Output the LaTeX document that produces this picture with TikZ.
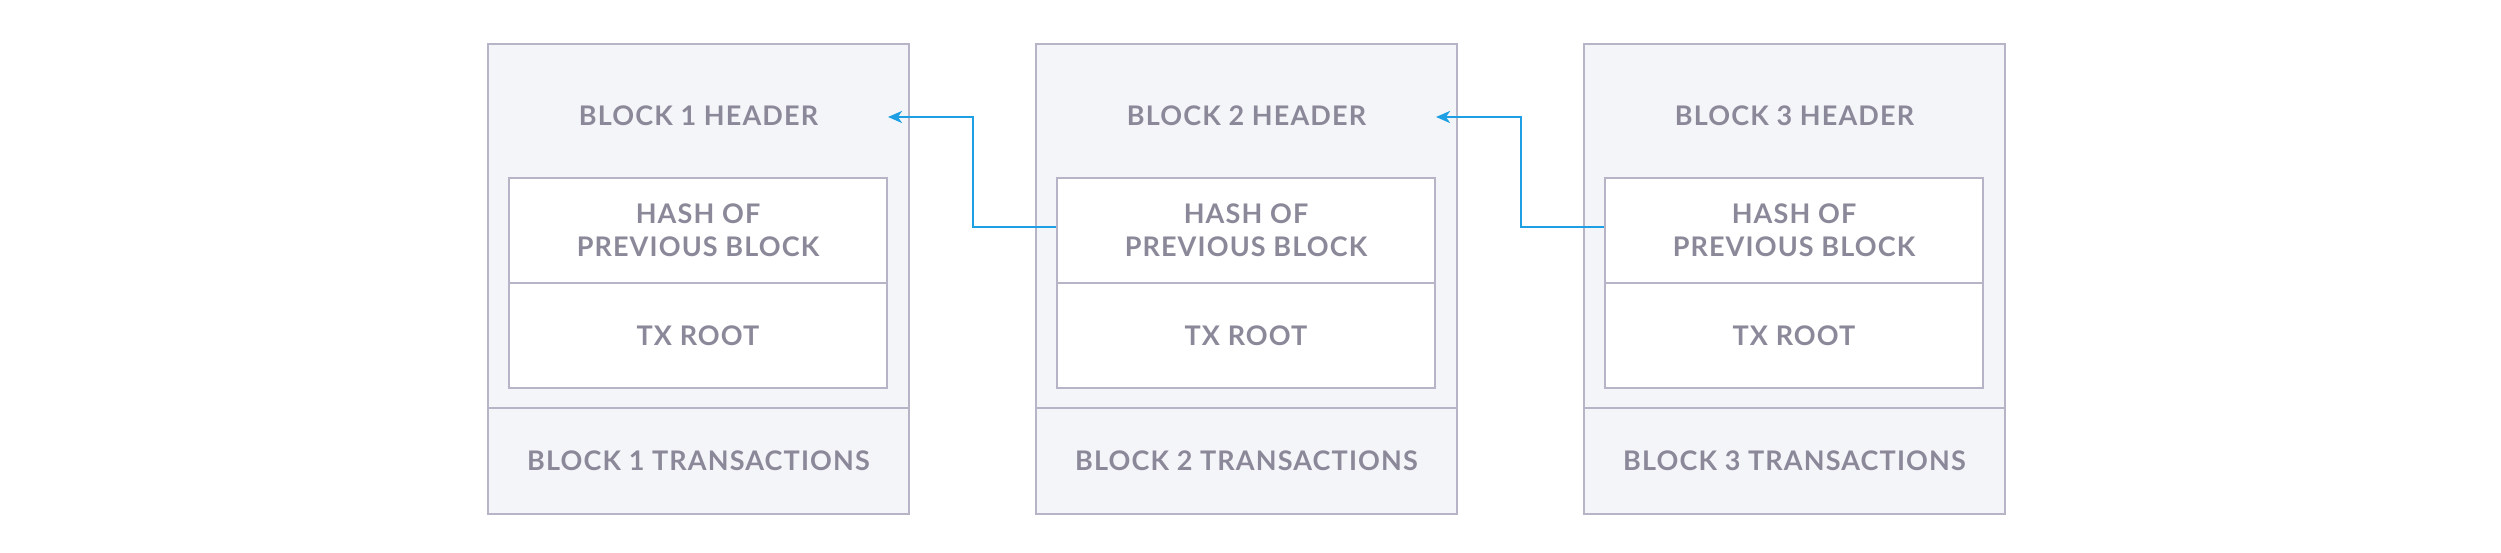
\documentclass[tikz,border=0pt]{standalone}
\usepackage{fontspec}
\setmainfont{Lato}
\newfontfamily\lblfont{Lato}[LetterSpace=4.2]
\usetikzlibrary{arrows.meta}
\definecolor{bordc}{HTML}{B6B4C6}
\definecolor{fillc}{HTML}{F4F5F9}
\definecolor{txtc}{HTML}{8B8999}
\definecolor{bluec}{HTML}{1E9FE3}
\tikzset{
  cell/.style={draw=bordc, line width=2pt, fill=fillc, inner sep=0pt, minimum width=421pt},
  inbox/.style={draw=bordc, line width=2pt, fill=white, inner sep=0pt, minimum width=378pt, minimum height=105pt,
    text=txtc, font=\lblfont\fontsize{27}{33.3}\selectfont\bfseries, align=center},
  lbl/.style={text=txtc, font=\lblfont\fontsize{27}{33.3}\selectfont\bfseries, inner sep=0pt, align=center},
  link/.style={draw=bluec, line width=2.3pt, -{Stealth[length=14pt,width=12pt,inset=4pt]}}
}
\begin{document}
\begin{tikzpicture}[x=1pt,y=1pt]
\useasboundingbox (0,0) rectangle (2501,553);
\foreach \i in {1,2,3}{
  \pgfmathsetmacro{\xo}{488+548*(\i-1)}
  \node[cell, minimum height=364pt] (h\i) at (\xo+210.5,327) {};
  \node[cell, minimum height=106pt, lbl, draw=bordc, fill=fillc] (t\i) at (\xo+210.5,92) {BLOCK \i{} TRANSACTIONS};
  \node[lbl] (ht\i) at (\xo+210.5,437.6) {BLOCK \i{} HEADER};
  \node[inbox] (p\i) at (\xo+210,322.5) {HASH OF\\PREVIOUS BLOCK};
  \node[inbox] (r\i) at (\xo+210,217.5) {TX ROOT};
}
\coordinate (a1) at (888,436);
\coordinate (m1) at (973,436);
\coordinate (a2) at (1436,436);
\coordinate (m2) at (1521,436);
\coordinate (s2) at ([yshift=3.5pt]p2.west);
\coordinate (s3) at ([yshift=3.5pt]p3.west);
\draw[link] (s2) -- (s2 -| m1) -- (m1) -- (a1);
\draw[link] (s3) -- (s3 -| m2) -- (m2) -- (a2);
\end{tikzpicture}
\end{document}
